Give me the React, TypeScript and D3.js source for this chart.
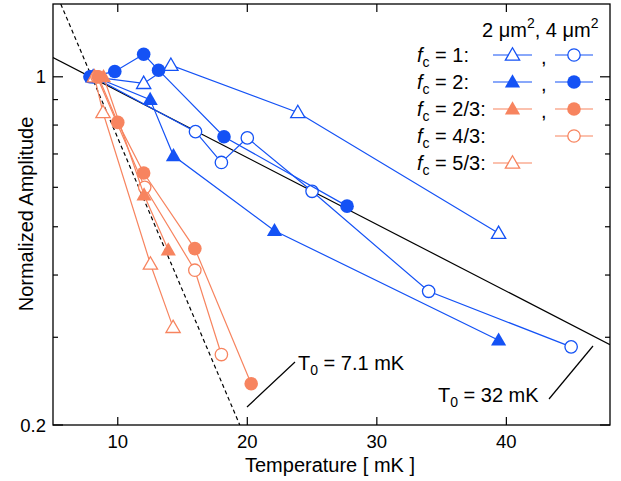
import React from "react";
import * as d3 from "d3";

// temperatures [mK] and normalized amplitudes
const tOpenTriBlue = [8.1, 12.0, 14.1, 23.9, 39.4];
const aOpenTriBlue = [1.0, 0.97, 1.055, 0.848, 0.485];
const tOpenCircBlue = [8.1, 16.0, 18.0, 20.0, 25.0, 34.0, 45.0];
const aOpenCircBlue = [1.0, 0.776, 0.673, 0.754, 0.589, 0.371, 0.287];
const tFillTriBlue = [8.2, 12.5, 14.3, 22.1, 39.4];
const aFillTriBlue = [1.0, 0.9, 0.694, 0.491, 0.296];
const tFillCircBlue = [7.85, 9.77, 12.0, 13.15, 18.2, 27.7];
const aFillCircBlue = [1.0, 1.025, 1.11, 1.031, 0.758, 0.55];

const tFillTriOrange = [8.9, 12.03, 13.9];
const aFillTriOrange = [1.0, 0.579, 0.449];
const tFillCircOrange = [8.5, 10.0, 12.0, 15.95, 20.3];
const aFillCircOrange = [1.0, 0.81, 0.641, 0.452, 0.242];
const tOpenCircOrange = [8.4, 12.08, 15.95, 18.0];
const aOpenCircOrange = [1.0, 0.6, 0.409, 0.277];
const tOpenTriOrange = [8.2, 8.86, 12.52, 14.27];
const aOpenTriOrange = [1.0, 0.848, 0.421, 0.314];

// fit lines (T0 = 32 mK solid, T0 = 7.1 mK dashed), endpoints
const fitSolidT = [5, 48];
const fitSolidA = [1.093, 0.29];
const fitDashT = [5.6, 19.42];
const fitDashA = [1.4, 0.2];

const xTicks = [10, 20, 30, 40];
const yMajor = [1, 0.2];
const yMinor = [0.3, 0.4, 0.5, 0.6, 0.7, 0.8, 0.9];
const fcLabels = ["1", "2", "2/3", "4/3", "5/3"];

const BLUE = "#1452f5";
const ORANGE = "#f7845f";
const FONT = "'Liberation Sans', Arial, sans-serif";

type Series = { t: number[]; a: number[]; color: string; shape: "tri" | "circ"; filled: boolean };

const blueSeries: Series[] = [
  { t: tOpenTriBlue, a: aOpenTriBlue, color: BLUE, shape: "tri", filled: false },
  { t: tOpenCircBlue, a: aOpenCircBlue, color: BLUE, shape: "circ", filled: false },
  { t: tFillTriBlue, a: aFillTriBlue, color: BLUE, shape: "tri", filled: true },
  { t: tFillCircBlue, a: aFillCircBlue, color: BLUE, shape: "circ", filled: true },
];
const orangeSeries: Series[] = [
  { t: tOpenTriOrange, a: aOpenTriOrange, color: ORANGE, shape: "tri", filled: false },
  { t: tOpenCircOrange, a: aOpenCircOrange, color: ORANGE, shape: "circ", filled: false },
  { t: tFillTriOrange, a: aFillTriOrange, color: ORANGE, shape: "tri", filled: true },
  { t: tFillCircOrange, a: aFillCircOrange, color: ORANGE, shape: "circ", filled: true },
];

// legend: [2 um^2 column, 4 um^2 column] per f_c row
const legendRows: (Series | null)[][] = [
  [blueSeries[0], blueSeries[1]],
  [blueSeries[2], blueSeries[3]],
  [orangeSeries[2], orangeSeries[3]],
  [null, orangeSeries[1]],
  [orangeSeries[0], null],
];

const left = 53, right = 610, top = 4, bottom = 425;
const x = d3.scaleLinear().domain([5, 48]).range([left, right]);
const y = d3.scaleLog().domain([0.2, 1.4]).range([bottom, top]);

const triPath = d3.symbol(d3.symbolTriangle, 100)()!;
const triPathOpen = d3.symbol(d3.symbolTriangle, 88)()!;

function Marker({ s, cx, cy }: { s: Series; cx: number; cy: number }) {
  if (s.shape === "circ") {
    return s.filled ? (
      <circle cx={cx} cy={cy} r={6.8} fill={s.color} />
    ) : (
      <circle cx={cx} cy={cy} r={6.2} fill="white" stroke={s.color} strokeWidth={1.3} />
    );
  }
  return s.filled ? (
    <path d={triPath} transform={`translate(${cx},${cy + 1})`} fill={s.color} />
  ) : (
    <path d={triPathOpen} transform={`translate(${cx},${cy + 1})`} fill="white" stroke={s.color} strokeWidth={1.3} />
  );
}

function Trace({ s }: { s: Series }) {
  const line = d3
    .line<number>()
    .x((d, i) => x(s.t[i]))
    .y((d) => y(d));
  return (
    <g>
      <path d={line(s.a)!} fill="none" stroke={s.color} strokeWidth={1.2} />
      {s.a.map((v, i) => (
        <Marker key={i} s={s} cx={x(s.t[i])} cy={y(v)} />
      ))}
    </g>
  );
}

export default function App() {
  const fitLine = (ts: number[], as: number[]) =>
    d3.line<number>().x((d, i) => x(ts[i])).y((d) => y(d))(as)!;

  return (
    <svg width={621} height={481} style={{ position: "absolute", left: 0, top: 0, fontFamily: FONT }}>
      <rect width={621} height={481} fill="white" />
      <defs>
        <clipPath id="plot">
          <rect x={left} y={top} width={right - left} height={bottom - top} />
        </clipPath>
      </defs>

      <g clipPath="url(#plot)">
        <path d={fitLine(fitSolidT, fitSolidA)} stroke="black" strokeWidth={1.2} fill="none" />
        <path d={fitLine(fitDashT, fitDashA)} stroke="black" strokeWidth={1.2} strokeDasharray="4,3" fill="none" />
        {blueSeries.map((s, i) => (
          <Trace key={"b" + i} s={s} />
        ))}
        {orangeSeries.map((s, i) => (
          <Trace key={"o" + i} s={s} />
        ))}
      </g>

      {/* frame */}
      <rect x={left} y={top} width={right - left} height={bottom - top} fill="none" stroke="black" strokeWidth={1.3} />

      {xTicks.map((v) => (
        <g key={v}>
          <line x1={x(v)} x2={x(v)} y1={bottom} y2={bottom - 8} stroke="black" strokeWidth={1.2} />
          <line x1={x(v)} x2={x(v)} y1={top} y2={top + 8} stroke="black" strokeWidth={1.2} />
          <text x={x(v)} y={448} textAnchor="middle" fontSize={18.5}>
            {v}
          </text>
        </g>
      ))}
      {yMajor.map((v) => (
        <g key={v}>
          <line x1={left} x2={left + 10} y1={y(v)} y2={y(v)} stroke="black" strokeWidth={1.2} />
          <line x1={right} x2={right - 10} y1={y(v)} y2={y(v)} stroke="black" strokeWidth={1.2} />
          <text x={46} y={y(v)} dy="0.36em" textAnchor="end" fontSize={18.5}>
            {v}
          </text>
        </g>
      ))}
      {yMinor.map((v) => (
        <g key={v}>
          <line x1={left} x2={left + 5} y1={y(v)} y2={y(v)} stroke="black" strokeWidth={1.2} />
          <line x1={right} x2={right - 5} y1={y(v)} y2={y(v)} stroke="black" strokeWidth={1.2} />
        </g>
      ))}

      <text x={330} y={472} textAnchor="middle" fontSize={20}>
        Temperature [ mK ]
      </text>
      <text transform="translate(33,214) rotate(-90)" textAnchor="middle" fontSize={20}>
        Normalized Amplitude
      </text>

      {/* annotations */}
      <line x1={247} y1={407} x2={295} y2={362} stroke="black" strokeWidth={1.2} />
      <text x={298} y={370} fontSize={20}>
        T<tspan fontSize={14} dy={5}>0</tspan>
        <tspan dy={-5}> = 7.1 mK</tspan>
      </text>
      <line x1={549} y1={399} x2={593} y2={346} stroke="black" strokeWidth={1.2} />
      <text x={438} y={402} fontSize={20}>
        T<tspan fontSize={14} dy={5}>0</tspan>
        <tspan dy={-5}> = 32 mK</tspan>
      </text>

      {/* legend */}
      <text x={482} y={37} fontSize={20}>
        2 μm<tspan fontSize={14} dy={-9}>2</tspan>
        <tspan dy={9}>, 4 μm</tspan>
        <tspan fontSize={14} dy={-9}>2</tspan>
      </text>
      {legendRows.map((row, i) => {
        const cy = 55 + i * 27;
        return (
          <g key={i}>
            <text x={417} y={cy + 7} fontSize={20}>
              <tspan fontStyle="italic">f</tspan>
              <tspan fontSize={14} dy={5}>c</tspan>
              <tspan dy={-5}> = {fcLabels[i]}:</tspan>
            </text>
            {row[0] && (
              <g>
                <line x1={493} x2={532} y1={cy} y2={cy} stroke={row[0].color} strokeWidth={1.2} />
                <Marker s={row[0]} cx={512.5} cy={cy} />
              </g>
            )}
            {row[0] && row[1] && (
              <text x={541} y={cy + 9} fontSize={20}>
                ,
              </text>
            )}
            {row[1] && (
              <g>
                <line x1={555} x2={593} y1={cy} y2={cy} stroke={row[1].color} strokeWidth={1.2} />
                <Marker s={row[1]} cx={574} cy={cy} />
              </g>
            )}
          </g>
        );
      })}
    </svg>
  );
}
